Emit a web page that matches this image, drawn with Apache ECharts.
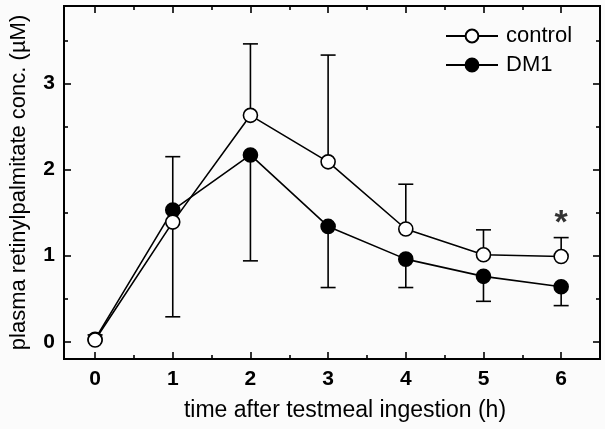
<!DOCTYPE html>
<html lang="en">
<head>
    <meta charset="UTF-8">
    <title>plasma retinylpalmitate</title>
    <script src="https://cdn.jsdelivr.net/npm/echarts@6/dist/echarts.min.js"></script>
    <style>
        html, body { margin: 0; padding: 0; background: #fbfbfb; }
        #chart { width: 605px; height: 429px; }
    </style>
</head>
<body>
<div id="chart"></div>
<script type="text/javascript">
    // time points (h)
    var hours = [0, 1, 2, 3, 4, 5, 6];
    // mean values (uM)
    var control = [0.02, 1.39, 2.63, 2.09, 1.31, 1.01, 0.99];
    var dm1 = [0.03, 1.53, 2.17, 1.34, 0.96, 0.76, 0.64];
    // error bar ends: control upwards, DM1 downwards
    var controlUpper = [0.08, 2.15, 3.46, 3.33, 1.83, 1.30, 1.21];
    var dm1Lower = [null, 0.29, 0.94, 0.63, 0.63, 0.47, 0.42];
    // significance mark
    var sigMark = [[6, 1.47]];
    // ticks
    var xMajor = [0, 1, 2, 3, 4, 5, 6];
    var xMinor = [0.5, 1.5, 2.5, 3.5, 4.5, 5.5];
    var yMajor = [0, 1, 2, 3];
    var yMinor = [0.5, 1.5, 2.5, 3.5];

    var font = 'Liberation Sans, Arial, sans-serif';

    function pairs(ys) {
        return hours.map(function (h, i) { return [h, ys[i]]; });
    }
    function errData(mean, end) {
        var out = [];
        hours.forEach(function (h, i) {
            if (end[i] != null) out.push([h, mean[i], end[i]]);
        });
        return out;
    }
    function renderErr(params, api) {
        var p0 = api.coord([api.value(0), api.value(1)]);
        var p1 = api.coord([api.value(0), api.value(2)]);
        var cap = 7.5;
        return {
            type: 'group',
            children: [
                { type: 'line', shape: { x1: p0[0], y1: p0[1], x2: p1[0], y2: p1[1] },
                  style: { stroke: '#000', lineWidth: 1.6 } },
                { type: 'line', shape: { x1: p1[0] - cap, y1: p1[1], x2: p1[0] + cap, y2: p1[1] },
                  style: { stroke: '#000', lineWidth: 1.6 } }
            ]
        };
    }

    function xAx(pos, vals, len, labels) {
        return {
            type: 'value', position: pos, min: -0.4, max: 6.5,
            axisLine: { show: true, onZero: false, lineStyle: { color: '#000', width: 2 } },
            axisTick: { show: true, inside: true, length: len, customValues: vals, lineStyle: { color: '#000', width: 1.6 } },
            axisLabel: labels ? { show: true, customValues: vals, margin: 10, color: '#000', fontSize: 21, fontWeight: 'bold', fontFamily: font } : { show: false },
            splitLine: { show: false }
        };
    }
    function yAx(pos, vals, len, labels) {
        return {
            type: 'value', position: pos, min: -0.2, max: 3.9,
            axisLine: { show: true, onZero: false, lineStyle: { color: '#000', width: 2 } },
            axisTick: { show: true, inside: true, length: len, customValues: vals, lineStyle: { color: '#000', width: 1.6 } },
            axisLabel: labels ? { show: true, customValues: vals, margin: 9, color: '#000', fontSize: 21, fontWeight: 'bold', fontFamily: font } : { show: false },
            splitLine: { show: false }
        };
    }

    var xAxes = [xAx('bottom', xMajor, 7, true), xAx('bottom', xMinor, 4, false),
                 xAx('top', xMajor, 7, false), xAx('top', xMinor, 4, false)];
    xAxes[0].name = 'time after testmeal ingestion (h)';
    xAxes[0].nameLocation = 'middle';
    xAxes[0].nameGap = 40;
    xAxes[0].nameTextStyle = { color: '#000', fontSize: 23, fontFamily: font, padding: [0, 0, 0, 26] };

    var yAxes = [yAx('left', yMajor, 7, true), yAx('left', yMinor, 4, false),
                 yAx('right', yMajor, 7, false), yAx('right', yMinor, 4, false)];
    yAxes[0].name = 'plasma retinylpalmitate conc. (\u00b5M)';
    yAxes[0].nameLocation = 'middle';
    yAxes[0].nameGap = 34;
    yAxes[0].nameTextStyle = { color: '#000', fontSize: 22, fontFamily: font };

    var myChart = echarts.init(document.getElementById('chart'));
    var option = {
        backgroundColor: '#fbfbfb',
        animation: false,
        grid: { left: 64, right: 5, top: 6, bottom: 70, containLabel: false },
        xAxis: xAxes,
        yAxis: yAxes,
        legend: {
            orient: 'vertical',
            left: 445, top: 25, padding: 0,
            itemWidth: 52, itemHeight: 16, itemGap: 7,
            textStyle: { color: '#000', fontSize: 22, fontFamily: font, padding: [0, 0, 0, 3] },
            data: ['control', 'DM1']
        },
        series: [
            {
                name: 'DM1-err', type: 'custom', renderItem: renderErr,
                data: errData(dm1, dm1Lower), z: 1, silent: true
            },
            {
                name: 'control-err', type: 'custom', renderItem: renderErr,
                data: errData(control, controlUpper), z: 1, silent: true
            },
            {
                name: 'DM1', type: 'line', data: pairs(dm1), z: 2,
                symbol: 'circle', symbolSize: 14,
                lineStyle: { color: '#000', width: 1.6 },
                itemStyle: { color: '#000', borderColor: '#000', borderWidth: 1.6 }
            },
            {
                name: 'control', type: 'line', data: pairs(control), z: 3,
                symbol: 'circle', symbolSize: 14, showAllSymbol: true,
                lineStyle: { color: '#000', width: 1.6 },
                itemStyle: { color: '#fff', borderColor: '#000', borderWidth: 1.6 }
            },
            {
                name: 'sig', type: 'scatter', data: sigMark, symbolSize: 1, z: 4,
                itemStyle: { color: 'rgba(0,0,0,0)' },
                label: { show: true, position: 'inside', formatter: '*', color: '#000',
                         fontSize: 34, fontWeight: 'bold', fontFamily: font, offset: [0, 8] }
            }
        ]
    };
    myChart.setOption(option);
</script>
</body>
</html>
